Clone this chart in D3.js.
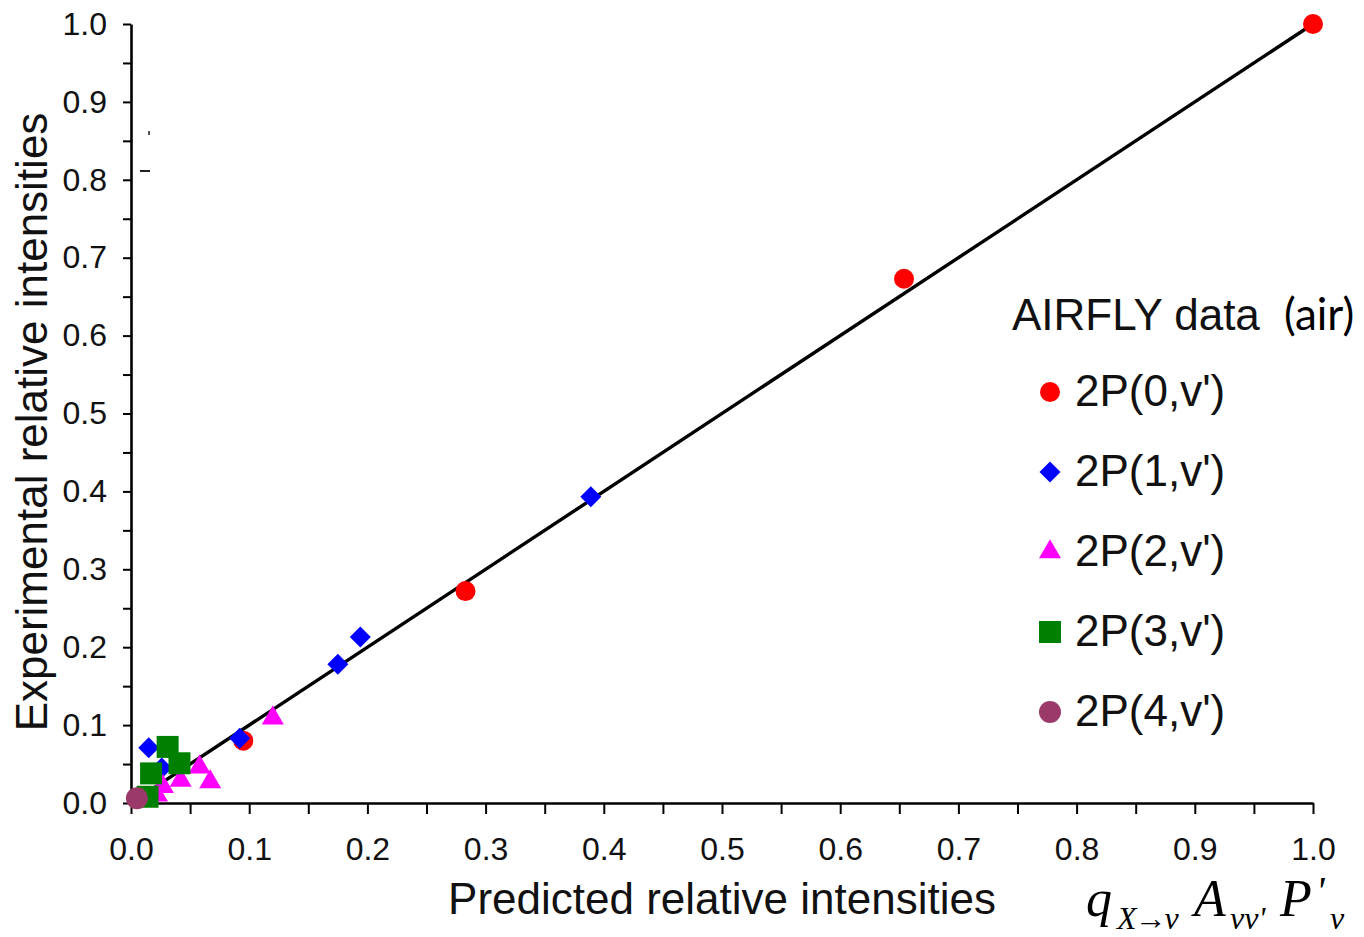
<!DOCTYPE html>
<html>
<head>
<meta charset="utf-8">
<script src="https://cdn.jsdelivr.net/npm/d3@7"></script>
<style>
  html, body { margin: 0; padding: 0; background: #fff; }
  svg { display: block; }
  .tick text { font-family: "Liberation Sans", Arial, sans-serif; }
</style>
</head>
<body>
<div id="chart"></div>
<script>
// Data: [predicted, experimental]
const band0 = [[1.0, 1.0], [0.654, 0.673], [0.283, 0.272], [0.095, 0.080]];
const band1 = [[0.389, 0.393], [0.194, 0.213], [0.175, 0.178], [0.092, 0.083], [0.015, 0.071], [0.026, 0.045]];
const band2 = [[0.120, 0.109], [0.058, 0.046], [0.067, 0.027], [0.042, 0.029], [0.027, 0.021], [0.022, 0.010]];
const band3 = [[0.031, 0.072], [0.041, 0.051], [0.017, 0.038], [0.014, 0.008]];
const band4 = [[0.005, 0.006]];
const legendLabels = ["2P(0,v')", "2P(1,v')", "2P(2,v')", "2P(3,v')", "2P(4,v')"];
const tickValues = d3.range(0, 21).map(i => i * 0.05);

const width = 1364, height = 937;
const svg = d3.select("#chart").append("svg")
    .attr("width", width).attr("height", height);

const x = d3.scaleLinear().domain([0, 1]).range([131, 1313]);
const y = d3.scaleLinear().domain([0, 1]).range([803, 24]);

const fmt = d => (Math.round(d * 100) % 10 === 0) ? d.toFixed(1) : "";

// axes
const xAxis = svg.append("g").attr("transform", `translate(0,${y(0)})`)
    .call(d3.axisBottom(x).tickValues(tickValues).tickFormat(fmt).tickSizeInner(11).tickSizeOuter(0).tickPadding(23));
const yAxis = svg.append("g").attr("transform", `translate(${x(0)},0)`)
    .call(d3.axisLeft(y).tickValues(tickValues).tickFormat(fmt).tickSizeInner(8).tickSizeOuter(0).tickPadding(16));
[xAxis, yAxis].forEach(g => {
    g.select(".domain").attr("stroke", "#000").attr("stroke-width", 2.6);
    g.selectAll(".tick line").attr("stroke", "#000").attr("stroke-width", 2);
    g.selectAll(".tick text").attr("fill", "#111").attr("font-size", "32px");
});
xAxis.selectAll(".tick text").attr("dy", "0.72em");

// axis titles
svg.append("text")
    .attr("x", 722).attr("y", 914)
    .attr("text-anchor", "middle")
    .attr("font-family", "Liberation Sans, Arial, sans-serif")
    .attr("font-size", "44px").attr("fill", "#111")
    .text("Predicted relative intensities");
svg.append("text")
    .attr("transform", "translate(47,422) rotate(-90)")
    .attr("text-anchor", "middle")
    .attr("font-family", "Liberation Sans, Arial, sans-serif")
    .attr("font-size", "44px").attr("fill", "#111")
    .text("Experimental relative intensities");

// small stray marks left of the axis in the original
svg.append("rect").attr("x", 148).attr("y", 131).attr("width", 2).attr("height", 4).attr("fill", "#555");
svg.append("rect").attr("x", 140).attr("y", 170).attr("width", 10).attr("height", 2).attr("fill", "#222");

// 1:1 line
svg.append("line")
    .attr("x1", x(0)).attr("y1", y(0)).attr("x2", x(1)).attr("y2", y(1))
    .attr("stroke", "#000").attr("stroke-width", 3.4);

// marker styles
const styles = [
    { data: band0, color: "#ff0000", type: d3.symbolCircle, size: Math.PI * 100, rot: 0 },
    { data: band1, color: "#0000ff", type: d3.symbolSquare, size: 220, rot: 45 },
    { data: band2, color: "#ff00ff", type: d3.symbolTriangle, size: 210, rot: 0 },
    { data: band3, color: "#008000", type: d3.symbolSquare, size: 484, rot: 0 },
    { data: band4, color: "#9b3a6a", type: d3.symbolCircle, size: Math.PI * 121, rot: 0 }
];

styles.forEach(s => {
    svg.append("g").selectAll("path").data(s.data).enter().append("path")
        .attr("d", d3.symbol().type(s.type).size(s.size))
        .attr("transform", d => `translate(${x(d[0])},${y(d[1])}) rotate(${s.rot})`)
        .attr("fill", s.color);
});

// legend
const lg = svg.append("g");
const title = lg.append("text").attr("x", 1012).attr("y", 330)
    .attr("font-size", "44px").attr("fill", "#111");
title.append("tspan").attr("font-family", "Liberation Sans, Arial, sans-serif").text("AIRFLY data");
title.append("tspan").attr("x", 1284).attr("font-family", "Lato, sans-serif").attr("font-size", "44px").attr("fill", "#000").text("(air)");

legendLabels.forEach((label, i) => {
    const cy = 392 + i * 80;
    const s = styles[i];
    lg.append("path")
        .attr("d", d3.symbol().type(s.type).size(s.size))
        .attr("transform", `translate(1050,${cy}) rotate(${s.rot})`)
        .attr("fill", s.color);
    lg.append("text").attr("x", 1075).attr("y", cy + 14)
        .attr("font-family", "Liberation Sans, Arial, sans-serif")
        .attr("font-size", "44px").attr("fill", "#111")
        .text(label);
});

// formula q_{X->v} A_{vv'} P'_v
const fm = svg.append("g")
    .attr("font-family", "Liberation Serif, Times New Roman, serif")
    .attr("font-style", "italic").attr("fill", "#000");
fm.append("text").attr("x", 1086).attr("y", 916).attr("font-size", "52px").text("q");
fm.append("text").attr("x", 1117).attr("y", 929).attr("font-size", "32px").attr("letter-spacing", "-2").text("X\u2192v");
fm.append("text").attr("x", 1194).attr("y", 916).attr("font-size", "52px").text("A");
fm.append("text").attr("x", 1230).attr("y", 929).attr("font-size", "32px").text("vv'");
fm.append("text").attr("x", 1280).attr("y", 916).attr("font-size", "52px").text("P");
fm.append("text").attr("x", 1316).attr("y", 904).attr("font-size", "40px").text("'");
fm.append("text").attr("x", 1330).attr("y", 929).attr("font-size", "32px").text("v");
</script>
</body>
</html>
